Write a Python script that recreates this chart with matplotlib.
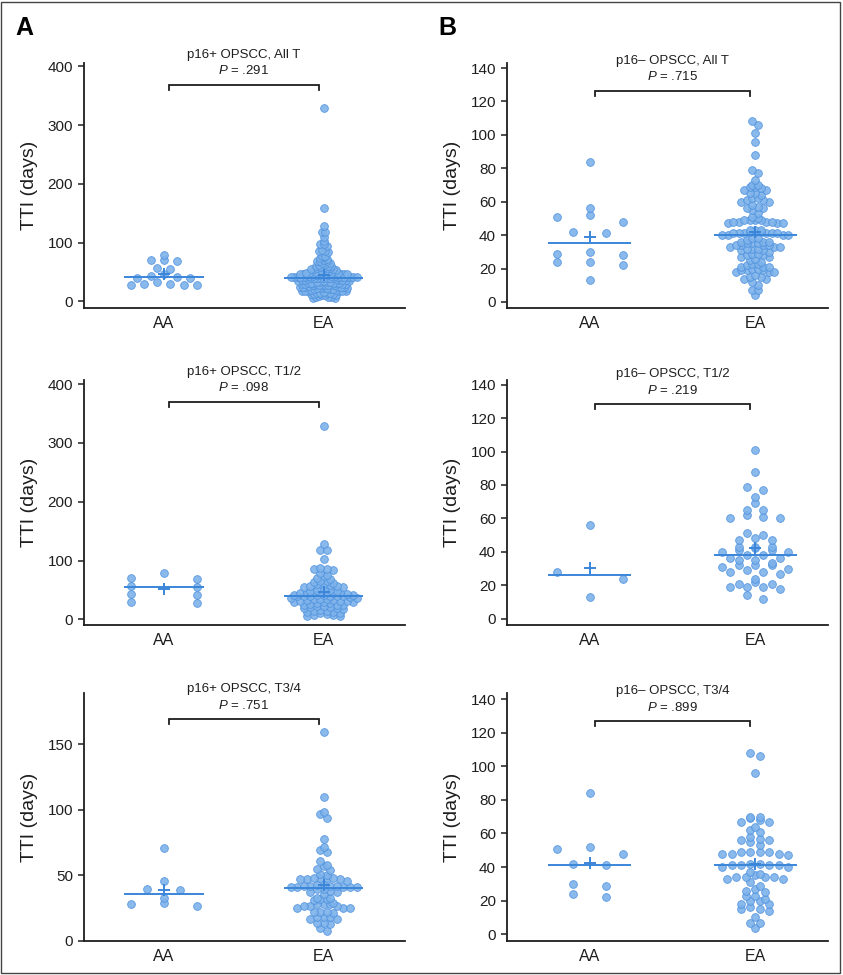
import numpy as np
import matplotlib
matplotlib.use("Agg")
import matplotlib.pyplot as plt
from matplotlib.patches import Rectangle

plt.rcParams["font.family"] = ["Liberation Sans", "DejaVu Sans"]
plt.rcParams["mathtext.fontset"] = "custom"
plt.rcParams["mathtext.it"] = "Liberation Sans:italic"
plt.rcParams["mathtext.rm"] = "Liberation Sans"

# ---------------------------------------------------------------------------
# Data (TTI in days)
# ---------------------------------------------------------------------------
groups = ["AA", "EA"]

pos_all_aa = [27, 27, 28, 29, 30, 33, 39, 40, 41, 43, 46, 55, 56, 69, 70, 71, 79]
pos_all_ea = [5, 6, 7, 8, 8, 9, 10, 10, 11, 12, 13, 13, 14, 14, 14, 15, 16, 17, 17,
              18, 18, 18, 18, 19, 20, 21, 21, 21, 22, 22, 22, 22, 23, 24, 24, 25, 25,
              25, 25, 26, 27, 27, 27, 27, 28, 28, 28, 28, 29, 29, 30, 30, 31, 31, 31,
              32, 32, 32, 33, 33, 33, 33, 34, 35, 35, 36, 36, 37, 37, 37, 38, 38, 39,
              39, 40, 40, 40, 40, 40, 40, 41, 41, 41, 41, 41, 41, 41, 42, 42, 42, 42,
              42, 42, 43, 43, 43, 44, 45, 45, 45, 46, 46, 47, 47, 47, 47, 47, 48, 48,
              48, 48, 48, 49, 50, 50, 50, 51, 52, 54, 55, 55, 55, 56, 57, 57, 58, 58,
              60, 60, 61, 62, 64, 65, 66, 68, 68, 69, 70, 72, 73, 75, 78, 78, 84, 85,
              85, 88, 94, 97, 98, 102, 110, 118, 118, 128, 159, 329]

pos_t12_aa = [27, 30, 41, 43, 55, 56, 69, 70, 79]
pos_t12_ea = [5, 6, 7, 8, 9, 10, 11, 12, 13, 14, 15, 16, 18, 19, 20, 21, 21, 22, 23,
              24, 24, 25, 26, 27, 28, 29, 30, 30, 31, 31, 32, 33, 33, 34, 35, 35, 36,
              37, 38, 39, 39, 40, 40, 40, 40, 41, 41, 42, 42, 43, 44, 45, 45, 45, 46,
              47, 47, 48, 49, 50, 50, 52, 55, 55, 56, 57, 58, 60, 60, 62, 64, 65, 66,
              68, 70, 73, 75, 78, 84, 85, 85, 88, 102, 118, 118, 128, 329]

pos_t34_aa = [27, 28, 29, 33, 39, 40, 46, 71]
pos_t34_ea = [8, 10, 13, 14, 14, 17, 17, 18, 18, 18, 21, 22, 22, 22, 25, 25, 25, 27,
              27, 27, 28, 28, 28, 29, 31, 32, 32, 33, 33, 36, 37, 37, 38, 40, 40, 41,
              41, 41, 41, 41, 42, 42, 42, 42, 43, 43, 46, 47, 47, 47, 48, 48, 48, 48,
              50, 51, 54, 55, 57, 58, 61, 68, 69, 72, 78, 94, 97, 98, 110, 159]

neg_all_aa = [13, 22, 24, 24, 28, 29, 30, 41, 42, 48, 51, 52, 56, 84]
neg_all_ea = [4, 7, 7, 10, 12, 14, 14, 15, 15, 16, 18, 18, 18, 19, 19, 19, 20, 20, 21,
              21, 21, 22, 23, 23, 24, 25, 26, 27, 27, 28, 28, 29, 29, 30, 31, 31, 32,
              32, 32, 33, 33, 33, 34, 34, 34, 34, 35, 35, 35, 36, 36, 36, 37, 38, 38,
              40, 40, 40, 40, 41, 41, 41, 41, 41, 41, 42, 42, 42, 43, 43, 43, 47, 47,
              47, 48, 48, 48, 48, 49, 49, 49, 49, 50, 51, 53, 55, 56, 56, 57, 58, 60,
              60, 61, 61, 62, 62, 64, 65, 65, 67, 67, 68, 69, 69, 70, 70, 73, 77, 79,
              88, 96, 101, 106, 108]

neg_t12_aa = [13, 24, 28, 56]
neg_t12_ea = [12, 14, 18, 19, 19, 19, 21, 21, 22, 24, 27, 28, 28, 29, 30, 31, 32, 32,
              32, 33, 35, 35, 36, 36, 38, 38, 40, 40, 41, 41, 42, 43, 43, 43, 47, 47,
              48, 50, 51, 60, 60, 61, 62, 65, 65, 69, 73, 77, 79, 88, 101]

neg_t34_aa = [22, 24, 29, 30, 41, 42, 48, 51, 52, 84]
neg_t34_ea = [4, 7, 7, 10, 14, 15, 15, 16, 18, 18, 20, 20, 21, 23, 23, 25, 26, 27, 29,
              31, 33, 33, 34, 34, 34, 34, 35, 36, 37, 40, 40, 41, 41, 41, 41, 42, 42,
              47, 48, 48, 48, 49, 49, 49, 49, 53, 55, 56, 56, 57, 58, 61, 62, 64, 67,
              67, 68, 69, 70, 70, 96, 106, 108]

titles = ["p16+ OPSCC, All T", "p16+ OPSCC, T1/2", "p16+ OPSCC, T3/4",
          "p16\u2013 OPSCC, All T", "p16\u2013 OPSCC, T1/2", "p16\u2013 OPSCC, T3/4"]
p_values = [".291", ".098", ".751", ".715", ".219", ".899"]

# ---------------------------------------------------------------------------
# Styling
# ---------------------------------------------------------------------------
FILL = "#7db2ea"
EDGE = "#4f92de"
LINE = "#3b86d9"
INK = "#1e1e1e"
W, H = 843, 975
DOT_PX = 8.0      # marker diameter in pixels
HALF_PX = 33.0    # max half-width of a swarm in pixels


def swarm_offsets(values, ax, bin_days):
    """Prism-like row-binned scatter: returns x offsets in data units."""
    vals = np.asarray(values, float)
    order = np.argsort(vals, kind="stable")
    o = ax.transData.transform([[0, 0], [1, 1]])
    px_per_x = (o[1] - o[0])[0]

    rows, cur = [], [order[0]]
    for i in order[1:]:
        if vals[i] - vals[cur[0]] < bin_days:
            cur.append(i)
        else:
            rows.append(cur)
            cur = [i]
    rows.append(cur)

    kmax = max(len(r) for r in rows)
    step = DOT_PX if kmax == 1 else 2 * HALF_PX / (kmax - 1)
    offs = np.zeros(len(vals))
    for r in rows:
        k = len(r)
        if k == 1:
            continue
        slots = (np.arange(k) - (k - 1) / 2) * step
        slots = slots[np.argsort(np.abs(slots), kind="stable")]
        # highest values sit in the middle of a row
        for j, s in zip(sorted(r, key=lambda j: -vals[j]), slots):
            offs[j] = s
    return offs / px_per_x


def panel(fig, rect_px, data, ylim, yticks, xlim, bracket, bins, title, pval):
    left, top, right, bottom = rect_px
    ax = fig.add_axes([left / W, 1 - bottom / H, (right - left) / W, (bottom - top) / H])
    ax.set_xlim(*xlim)
    ax.set_ylim(*ylim)

    for x0, (vals, bin_days) in enumerate(zip(data, bins)):
        offs = swarm_offsets(vals, ax, bin_days)
        ax.scatter(x0 + offs, vals, s=31, facecolor=FILL, edgecolor=EDGE,
                   linewidth=0.6, alpha=0.9, zorder=3, clip_on=False)
        ax.hlines(np.median(vals), x0 - 0.25, x0 + 0.25, color=LINE, lw=1.4, zorder=4)
        ax.plot([x0], [np.mean(vals)], marker="+", ms=9, mew=1.4, color=LINE, zorder=5)

    yb, drop = bracket
    ax.plot([0.03, 0.03, 0.97, 0.97], [yb - drop, yb, yb, yb - drop],
            color=INK, lw=1.3, clip_on=False, solid_joinstyle="miter")
    ax.annotate(title, xy=(0.5, yb), xytext=(0, 21.5), textcoords="offset points",
                ha="center", va="center", fontsize=9.5, color=INK)
    ax.annotate(f"$P$ = {pval}", xy=(0.5, yb), xytext=(0, 10), textcoords="offset points",
                ha="center", va="center", fontsize=9.5, color=INK)

    for side in ("top", "right"):
        ax.spines[side].set_visible(False)
    for side in ("left", "bottom"):
        ax.spines[side].set_linewidth(1.3)
        ax.spines[side].set_color(INK)

    ax.set_xticks([0, 1])
    ax.set_xticklabels(groups, fontsize=11.5, color=INK)
    ax.tick_params(axis="x", length=0, pad=6)
    ax.set_yticks(yticks)
    ax.tick_params(axis="y", labelsize=11, length=4, width=1.1, pad=4, colors=INK)
    ax.set_ylabel("TTI (days)", fontsize=14, labelpad=7, color=INK)
    return ax


fig = plt.figure(figsize=(W / 100, H / 100), dpi=100, facecolor="white")

left_x = (84, 405)
right_x = (507, 828)
rows_y = [(63, 308), (380, 625), (693, 941)]
xlim_l = (-0.5, 1.51)
xlim_r = (-0.5, 1.44)
tick400 = np.arange(0, 401, 100)
tick140 = np.arange(0, 141, 20)

specs = [
    (left_x, rows_y[0], [pos_all_aa, pos_all_ea], (-11.3, 405.7), tick400, xlim_l, (369, 9), (8, 5.4)),
    (left_x, rows_y[1], [pos_t12_aa, pos_t12_ea], (-9.6, 407), tick400, xlim_l, (370, 9), (9, 5.4)),
    (left_x, rows_y[2], [pos_t34_aa, pos_t34_ea], (0, 189), np.arange(0, 151, 50), xlim_l, (169, 4), (4, 3.8)),
    (right_x, rows_y[0], [neg_all_aa, neg_all_ea], (-3.6, 143), tick140, xlim_r, (126.5, 3), (5, 3.0)),
    (right_x, rows_y[1], [neg_t12_aa, neg_t12_ea], (-3.8, 142.8), tick140, xlim_r, (128.5, 3), (5, 3.0)),
    (right_x, rows_y[2], [neg_t34_aa, neg_t34_ea], (-4, 143.6), tick140, xlim_r, (127, 3.3), (5, 3.0)),
]

for (xs, ys, data, ylim, yticks, xlim, bracket, bins), title, pval in zip(specs, titles, p_values):
    panel(fig, (xs[0], ys[0], xs[1], ys[1]), data, ylim, yticks, xlim, bracket, bins,
          title, pval)

fig.text(15 / W, 1 - 35 / H, "A", fontsize=18, fontweight="bold", color="black")
fig.text(438 / W, 1 - 35 / H, "B", fontsize=18, fontweight="bold", color="black")

fig.patches.append(Rectangle((1 / W, 2 / H), 839 / W, 971 / H, transform=fig.transFigure,
                             fill=False, edgecolor="#444444", lw=1.0))

fig.savefig("out.png", dpi=100, facecolor="white")
